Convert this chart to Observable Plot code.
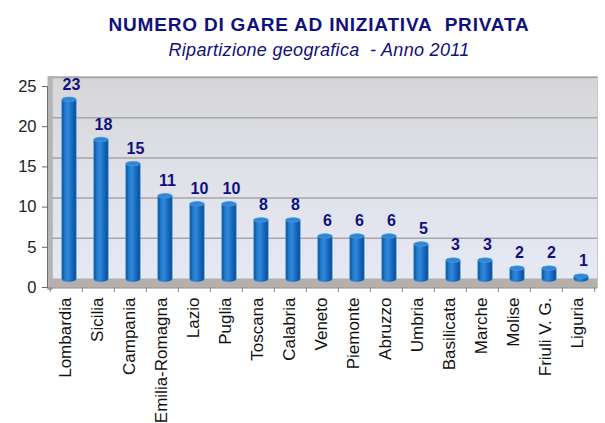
<!DOCTYPE html>
<html>
<head>
<meta charset="utf-8">
<script src="https://cdn.jsdelivr.net/npm/d3@7"></script>
<script src="https://cdn.jsdelivr.net/npm/@observablehq/plot@0.6"></script>
<style>
  html, body { margin: 0; padding: 0; background: #fff; }
  #wrap { width: 605px; height: 423px; overflow: hidden; font-family: "Liberation Sans", Arial, sans-serif; }
  #title { height: 60px; text-align: center; color: #10107e; padding-left: 33px; box-sizing: border-box; }
  #t1 { font-weight: bold; font-size: 19px; padding-top: 15px; line-height: 20px; letter-spacing: 0.8px; white-space: nowrap; }
  #t2 { font-style: italic; font-size: 18px; line-height: 20px; margin-top: 5px; letter-spacing: 0.3px; white-space: nowrap; }
  svg { display: block; }
</style>
</head>
<body>
<div id="wrap">
  <div id="title">
    <div id="t1">NUMERO DI GARE AD INIZIATIVA&nbsp; PRIVATA</div>
    <div id="t2">Ripartizione geografica&nbsp; - Anno 2011</div>
  </div>
  <div id="chart"></div>
</div>
<script>
const regions = ["Lombardia","Sicilia","Campania","Emilia-Romagna","Lazio","Puglia","Toscana","Calabria","Veneto","Piemonte","Abruzzo","Umbria","Basilicata","Marche","Molise","Friuli V. G.","Liguria"];
const gare = [23,18,15,11,10,10,8,8,6,6,6,5,3,3,2,2,1];
const yTicks = [0,5,10,15,20,25];

const data = regions.map((r, i) => ({region: r, value: gare[i]}));
const W = 605, H = 363, mL = 47, mR = 8;
const step = (W - mL - mR) / regions.length;
const navy = "#10107e";
const inset = (step - 15) / 2;

const chart = Plot.plot({
  width: W, height: H,
  marginTop: 26, marginBottom: 136, marginLeft: mL, marginRight: mR,
  style: {fontFamily: "'Liberation Sans', Arial, sans-serif", background: "transparent"},
  x: {type: "band", domain: regions, padding: 0},
  y: {domain: [0, 25], ticks: yTicks},
  marks: [
    Plot.frame({fill: "url(#wallGrad)", stroke: "#c8c8c8", insetTop: -10, insetLeft: 5}),
    Plot.frame({anchor: "left", stroke: "#b4b4b4", strokeWidth: 5, dx: 2.5, insetTop: -8}),
    Plot.gridY(yTicks.slice(1), {stroke: "#a6a6a6", strokeOpacity: 1, strokeWidth: 1.5, dy: -9, insetLeft: 5}),
    Plot.ruleY([0], {stroke: "#b6aeac", strokeWidth: 9, dy: -4.5, insetLeft: 3}),
    Plot.ruleY([0], {stroke: "#8a8a8a", strokeWidth: 1, dy: 0.5}),
    Plot.frame({anchor: "left", stroke: "#6e6e6e", strokeWidth: 1}),
    Plot.barY(data, {x: "region", y: "value", fill: "url(#barGrad)", insetLeft: inset, insetRight: inset, rx: 7.5, ry: 3, dx: 3, dy: -5, stroke: "#6aaee8", strokeWidth: 0.8, strokeOpacity: 0.6}),
    Plot.barY(data, {x: "region", y1: d => d.value - 0.55, y2: "value", fill: "#2f86d4", insetLeft: inset, insetRight: inset, rx: 7.5, ry: 2.3, dx: 3, dy: -5, stroke: "#5c9fe0", strokeWidth: 0.6}),
    Plot.text(data, {x: "region", y: "value", text: d => String(d.value), fill: navy, fontWeight: "bold", fontSize: 16, lineAnchor: "bottom", dy: -13, dx: 5}),
    Plot.axisY({ticks: yTicks, tickSize: 5, tickPadding: 6, fontSize: 16.5, label: null, color: "#222", stroke: "#666"}),
    Plot.axisX({tickSize: 5, tickFormat: () => "", dx: -step / 2, label: null, stroke: "#888"}),
    Plot.axisX({ticks: [regions[regions.length - 1]], tickSize: 5, tickFormat: () => "", dx: step / 2, label: null, stroke: "#888"}),
    Plot.axisX({tickSize: 0, tickRotate: -90, tickPadding: 10, fontSize: 17, label: null, color: "#111", dx: -1})
  ]
});

const svg = d3.select(chart);
svg.insert("defs", ":first-child").html(`
  <linearGradient id="wallGrad" x1="0" y1="0" x2="0" y2="1">
    <stop offset="0" stop-color="#d6d6d8"/>
    <stop offset="0.45" stop-color="#dfe1e8"/>
    <stop offset="1" stop-color="#e6eaf6"/>
  </linearGradient>
  <linearGradient id="barGrad" x1="0" y1="0" x2="1" y2="0">
    <stop offset="0" stop-color="#0a4d98"/>
    <stop offset="0.22" stop-color="#1f78cc"/>
    <stop offset="0.42" stop-color="#2d88da"/>
    <stop offset="0.7" stop-color="#176bc0"/>
    <stop offset="1" stop-color="#0a4a92"/>
  </linearGradient>
`);
document.getElementById("chart").appendChild(chart);
</script>
</body>
</html>
